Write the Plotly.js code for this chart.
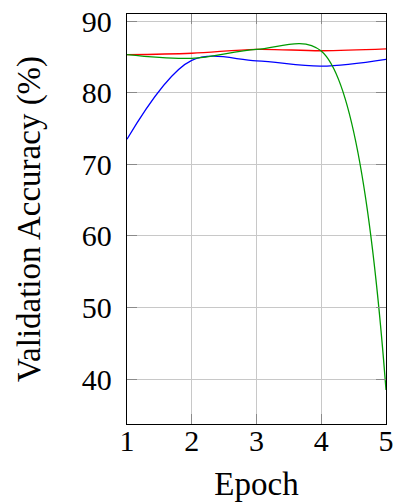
<!DOCTYPE html>
<html>
<head>
<meta charset="utf-8">
<script src="https://cdn.plot.ly/plotly-3.0.1.min.js"></script>
<style>
  html, body { margin: 0; padding: 0; background: #ffffff; }
  #chart { width: 398px; height: 502px; }
</style>
</head>
<body>
<div id="chart"></div>
<script>
// Data
const epochs = [1, 2, 3, 4, 5];
const seriesRed = [85.3, 85.5, 86.05, 85.85, 86.1];
const seriesBlue = [73.5, 84.5, 84.45, 83.7, 84.65];
const seriesGreen = [85.3, 84.8, 86.05, 85.8, 38.5];
const xTicks = [1, 2, 3, 4, 5];
const yTicks = [40, 50, 60, 70, 80, 90];

const FONT = "Liberation Serif, DejaVu Serif, serif";

function mk(y, color) {
  return {
    x: epochs, y: y, type: 'scatter', mode: 'lines',
    line: { color: color, width: 1.3, shape: 'spline', smoothing: 1.0 },
    hoverinfo: 'skip', showlegend: false
  };
}

const data = [
  mk(seriesBlue, '#0000ff'),
  mk(seriesRed, '#ff0000'),
  mk(seriesGreen, '#009a00')
];

const axisCommon = {
  showline: true, linecolor: '#000000', linewidth: 1.2, mirror: 'ticks',
  ticks: 'inside', ticklen: 10, tickcolor: '#8a8a8a', tickwidth: 1,
  showgrid: true, gridcolor: '#c8c8c8', gridwidth: 1,
  zeroline: false,
  tickfont: { family: FONT, size: 30, color: '#000000' }
};

const layout = {
  width: 398, height: 502,
  margin: { l: 127, r: 12, t: 14, b: 78 },
  paper_bgcolor: '#ffffff', plot_bgcolor: '#ffffff',
  font: { family: FONT, color: '#000000' },
  xaxis: Object.assign({}, axisCommon, {
    range: [1, 5],
    tickvals: xTicks,
    ticktext: xTicks.map(String),
    ticklabelstandoff: -10,
    title: { text: 'Epoch', font: { family: FONT, size: 33, color: '#000000' }, standoff: 17 }
  }),
  yaxis: Object.assign({}, axisCommon, {
    range: [33.76, 90.98],
    tickvals: yTicks,
    ticktext: yTicks.map(String),
    ticklabelstandoff: 8,
    title: { text: 'Validation Accuracy (%)', font: { family: FONT, size: 33, color: '#000000' }, standoff: 31 }
  })
};

Plotly.newPlot('chart', data, layout, { staticPlot: true, displayModeBar: false });
</script>
</body>
</html>
